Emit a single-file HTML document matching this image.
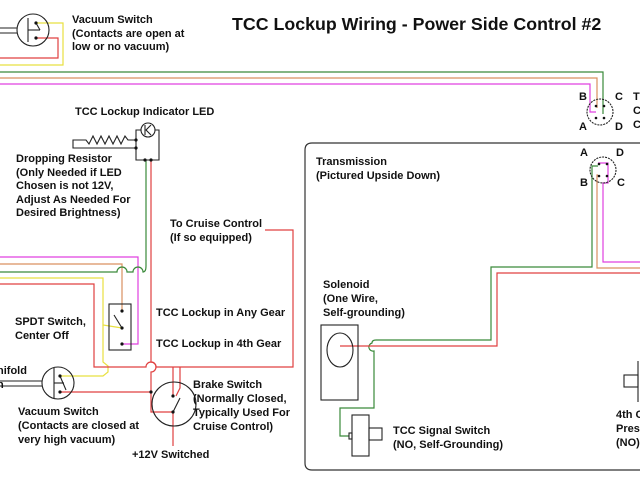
<!DOCTYPE html>
<html><head><meta charset="utf-8"><style>
html,body{margin:0;padding:0;background:#fff}
svg{display:block}
text{font-family:"Liberation Sans",Arial,sans-serif;font-size:11px;font-weight:bold;fill:#111}
</style></head><body>
<svg width="640" height="480" viewBox="0 0 640 480" xmlns="http://www.w3.org/2000/svg">
<g fill="none" stroke-width="1.2">
<polyline stroke="#3a8a3a" points="0,72 603,72 603,114"/>
<polyline stroke="#d99060" points="0,78 597,78 597,108"/>
<polyline stroke="#e040e0" points="0,84 590,84 590,112 596,112"/>
<polyline stroke="#e8e040" points="36,23 63,23 63,65 0,65"/>
<polyline stroke="#e04040" points="36,38 58,38 58,58 0,58"/>
<path stroke="#333" d="M640,143 H312 Q305,143 305,150 V463 Q305,470 312,470 H640"/>
<path stroke="#3a8a3a" d="M598,166 H592 V267 H491 V340 H376 Q372,340 372,343 A4,4 0 0 0 374,351 V408 H340 V436 H349"/>
<polyline stroke="#d99060" points="598,175 597,175 597,268 640,268"/>
<polyline stroke="#e040e0" points="598,163 608,163 608,183 603,183 603,262 640,262"/>
<polyline stroke="#e04040" points="640,273 497,273 497,346 340,346"/>
<polyline stroke="#e040e0" points="0,257 138,257 138,344 123,344"/>
<polyline stroke="#d99060" points="0,264 122,264 122,311"/>
<path stroke="#3a8a3a" d="M0,272 H117 a5,5 0 0 1 10,0 H133 a5,5 0 0 1 10,0 Q146,272 146,266 V160"/>
<polyline stroke="#e8e040" points="0,278 103,278 103,325 122,328"/>
<polyline stroke="#e8e040" points="103,325 103,362 108,366 108,372 103,376 60,376"/>
<path stroke="#e04040" d="M0,284 H94 V367 H146 a5,5 0 0 1 10,0 H293 V230 H265"/>
<path stroke="#e04040" d="M151,160 V362 a5,5 0 0 1 0,10 V412 H173"/>
<polyline stroke="#e04040" points="60,392 151,392"/>
<polyline stroke="#e04040" points="173,367 173,396"/>
<polyline stroke="#e04040" points="180,367 180,388 176,396"/>
<polyline stroke="#e04040" points="173,412 173,446"/>
</g>
<g fill="none" stroke="#222" stroke-width="1.1">
<circle cx="33" cy="30" r="16" fill="none"/>
<line x1="0" y1="28" x2="17" y2="28"/><line x1="0" y1="33" x2="17" y2="33"/>
<line x1="28" y1="18" x2="28" y2="42"/><line x1="28" y1="30" x2="40" y2="30"/><line x1="36" y1="23" x2="40" y2="30"/>
<circle cx="148" cy="130" r="7"/>
<line x1="145" y1="125" x2="145" y2="135"/><polyline points="151,125 146,130 151,135"/>
<polyline points="141,130 136,130 136,160 159,160 159,130 155,130"/>
<polyline points="136,140 128,140 125,136 121,144 117,136 113,144 109,136 105,144 101,136 97,144 93,136 89,144 86,140 73,140 73,148 136,148"/>
<rect x="109" y="304" width="22" height="46"/>
<line x1="122" y1="328" x2="114" y2="315"/>
<circle cx="58" cy="383" r="16"/>
<line x1="0" y1="381" x2="42" y2="381"/><line x1="0" y1="386" x2="42" y2="386"/>
<line x1="54" y1="368" x2="54" y2="398"/><line x1="54" y1="383" x2="64" y2="383"/><line x1="60" y1="376" x2="66" y2="390"/>
<circle cx="174" cy="404" r="22"/>
<line x1="173" y1="412" x2="180" y2="398"/>
<circle cx="600" cy="112" r="13" stroke-dasharray="2,1"/>
<circle cx="603" cy="170" r="13" stroke-dasharray="2,1"/>
<rect x="321" y="325" width="37" height="75"/>
<ellipse cx="340" cy="350" rx="13" ry="17"/>
<rect x="352" y="415" width="17" height="41"/>
<rect x="369" y="428" width="13" height="12"/>
<rect x="349" y="433" width="3" height="6"/>
<rect x="624" y="375" width="14" height="12"/>
<line x1="638" y1="361" x2="638" y2="402"/>
</g>
<g fill="#111">
<circle cx="36" cy="23" r="1.6"/><circle cx="36" cy="38" r="1.6"/>
<circle cx="136" cy="140" r="1.6"/><circle cx="136" cy="148" r="1.6"/>
<circle cx="145" cy="160" r="1.6"/><circle cx="151" cy="160" r="1.6"/>
<circle cx="122" cy="311" r="1.6"/><circle cx="122" cy="328" r="1.6"/><circle cx="122" cy="344" r="1.6"/>
<circle cx="60" cy="376" r="1.6"/><circle cx="60" cy="392" r="1.6"/>
<circle cx="151" cy="392" r="1.6"/>
<circle cx="173" cy="396" r="1.6"/><circle cx="173" cy="412" r="1.6"/>
<circle cx="596" cy="106" r="1.3"/><circle cx="604" cy="106" r="1.3"/><circle cx="596" cy="118" r="1.3"/><circle cx="604" cy="118" r="1.3"/>
<circle cx="599" cy="164" r="1.3"/><circle cx="607" cy="164" r="1.3"/><circle cx="599" cy="176" r="1.3"/><circle cx="607" cy="176" r="1.3"/>
</g>
<text x="232" y="30" style="font-size:17.8px">TCC Lockup Wiring - Power Side Control #2</text>
<text x="72" y="23">Vacuum Switch</text>
<text x="72" y="37">(Contacts are open at</text>
<text x="72" y="50">low or no vacuum)</text>
<text x="75" y="115">TCC Lockup Indicator LED</text>
<text x="16" y="162">Dropping Resistor</text>
<text x="16" y="176">(Only Needed if LED</text>
<text x="16" y="189">Chosen is not 12V,</text>
<text x="16" y="203">Adjust As Needed For</text>
<text x="16" y="216">Desired Brightness)</text>
<text x="170" y="227">To Cruise Control</text>
<text x="170" y="241">(If so equipped)</text>
<text x="15" y="325">SPDT Switch,</text>
<text x="15" y="339">Center Off</text>
<text x="156" y="316">TCC Lockup in Any Gear</text>
<text x="156" y="347">TCC Lockup in 4th Gear</text>
<text x="-3" y="374">nifold</text>
<text x="-3" y="388">n</text>
<text x="18" y="415">Vacuum Switch</text>
<text x="18" y="429">(Contacts are closed at</text>
<text x="18" y="443">very high vacuum)</text>
<text x="193" y="388">Brake Switch</text>
<text x="193" y="402">(Normally Closed,</text>
<text x="193" y="416">Typically Used For</text>
<text x="193" y="430">Cruise Control)</text>
<text x="132" y="458">+12V Switched</text>
<text x="316" y="165">Transmission</text>
<text x="316" y="179">(Pictured Upside Down)</text>
<text x="323" y="288">Solenoid</text>
<text x="323" y="302">(One Wire,</text>
<text x="323" y="316">Self-grounding)</text>
<text x="393" y="434">TCC Signal Switch</text>
<text x="393" y="448">(NO, Self-Grounding)</text>
<text x="616" y="418">4th G</text>
<text x="616" y="432">Pres</text>
<text x="616" y="446">(NO)</text>
<text x="579" y="100">B</text><text x="615" y="100">C</text><text x="579" y="130">A</text><text x="615" y="130">D</text>
<text x="633" y="100">T</text><text x="633" y="114">C</text><text x="633" y="128">C</text>
<text x="580" y="156">A</text><text x="616" y="156">D</text><text x="580" y="186">B</text><text x="617" y="186">C</text>
</svg>
</body></html>
